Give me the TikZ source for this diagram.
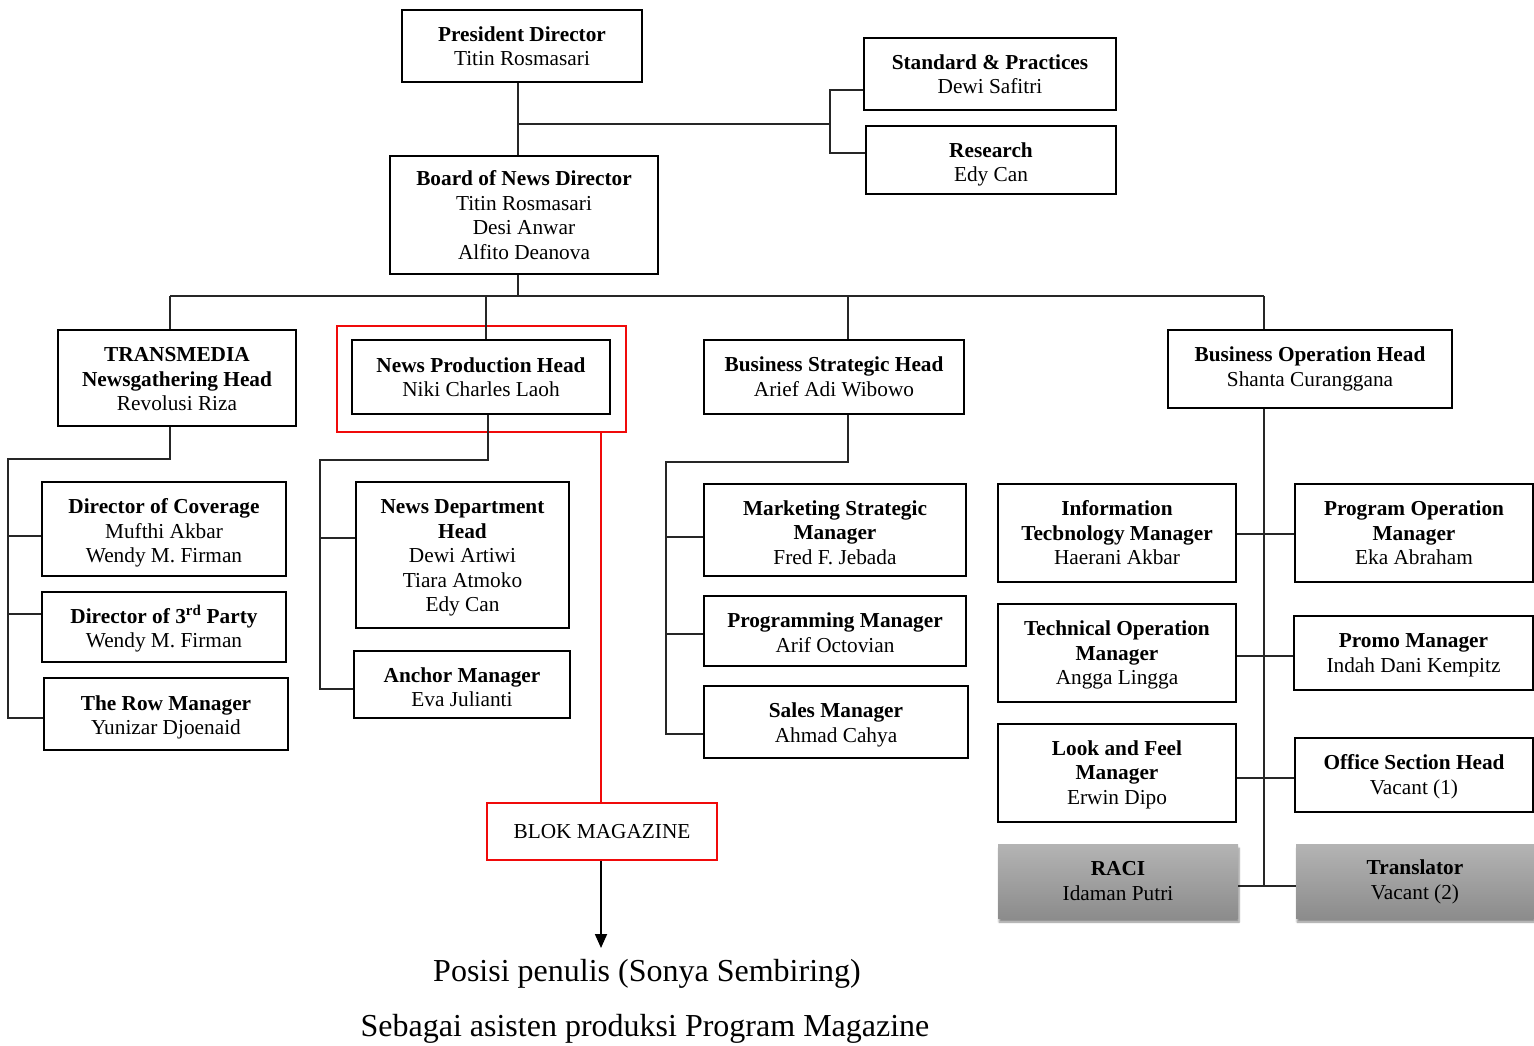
\documentclass[tikz,border=0pt]{standalone}
\usepackage{fontspec}
\setmainfont{Liberation Serif}
\usetikzlibrary{arrows.meta,shadows.blur}
\definecolor{gtop}{HTML}{B4B4B4}
\definecolor{gbot}{HTML}{8C8C8C}
\definecolor{redline}{HTML}{F00A0A}
\newlength\tdy
\setlength\tdy{0pt}
\newcommand\myline[1]{\raisebox{-\tdy}[\height][\depth]{#1}}
\tikzset{
  tshift/.code={\global\tdy=#1\relax},
  box/.style={draw=black, line width=1.8pt, align=center, inner sep=0pt,
    font=\fontsize{21.3}{24.5}\selectfont},
  graybox/.style={align=center, inner sep=0pt, top color=gtop, bottom color=gbot,
    blur shadow={shadow xshift=1pt, shadow yshift=-4pt, shadow blur steps=6, shadow opacity=45},
    font=\fontsize{21.3}{24.5}\selectfont},
  conn/.style={line width=1.4pt, draw=black!85},
  redconn/.style={line width=2.5pt, draw=redline},
}
\begin{document}
\begin{tikzpicture}[x=1pt,y=-1pt]
\useasboundingbox (0,0) rectangle (1534,1045);

% top
\node[box, tshift=0pt, minimum width=240, minimum height=72] (pres) at (522,46) {\textbf{President Director}\\Titin Rosmasari};
\node[box, tshift=0pt, minimum width=252, minimum height=72] (sp) at (990,74) {\textbf{Standard \& Practices}\\Dewi Safitri};
\node[box, tshift=4.5pt, minimum width=250, minimum height=68] (res) at (991,160) {\myline{\textbf{Research}}\\\myline{Edy Can}};
\node[box, tshift=0pt, minimum width=268, minimum height=118] (board) at (524,215) {\textbf{Board of News Director}\\Titin Rosmasari\\Desi Anwar\\Alfito Deanova};

% heads
\node[box, tshift=1.5pt, minimum width=238, minimum height=96] (trans) at (177,378) {\myline{\textbf{TRANSMEDIA}}\\\myline{\textbf{Newsgathering Head}}\\\myline{Revolusi Riza}};
\node[draw=redline, line width=2.5pt, minimum width=289, minimum height=106, inner sep=0pt] (redframe) at (481.5,379) {};
\node[box, tshift=0pt, minimum width=258, minimum height=74] (nph) at (481,377) {\textbf{News Production Head}\\Niki Charles Laoh};
\node[box, tshift=0pt, minimum width=260, minimum height=74] (bsh) at (834,377) {\textbf{Business Strategic Head}\\Arief Adi Wibowo};
\node[box, tshift=0pt, minimum width=284, minimum height=78] (boh) at (1310,369) {\textbf{Business Operation Head}\\Shanta Curanggana};

% transmedia children
\node[box, tshift=4pt, minimum width=244, minimum height=94] (doc) at (164,529) {\myline{\textbf{Director of Coverage}}\\\myline{Mufthi Akbar}\\\myline{Wendy M. Firman}};
\node[box, tshift=2pt, minimum width=244, minimum height=70] (d3p) at (164,627) {\myline{\textbf{Director of 3\textsuperscript{rd} Party}}\\\myline{Wendy M. Firman}};
\node[box, tshift=3.5pt, minimum width=244, minimum height=72] (row) at (166,714) {\myline{\textbf{The Row Manager}}\\\myline{Yunizar Djoenaid}};

% news production children
\node[box, tshift=3pt, minimum width=213, minimum height=146] (ndh) at (462.5,555) {\myline{\textbf{News Department}}\\\myline{\textbf{Head}}\\\myline{Dewi Artiwi}\\\myline{Tiara Atmoko}\\\myline{Edy Can}};
\node[box, tshift=2.5pt, minimum width=216, minimum height=67] (anc) at (462,684.5) {\myline{\textbf{Anchor Manager}}\\\myline{Eva Julianti}};

% business strategic children
\node[box, tshift=2.5pt, minimum width=262, minimum height=92] (msm) at (835,530) {\myline{\textbf{Marketing Strategic}}\\\myline{\textbf{Manager}}\\\myline{Fred F. Jebada}};
\node[box, tshift=1.5pt, minimum width=262, minimum height=70] (pm) at (835,631) {\myline{\textbf{Programming Manager}}\\\myline{Arif Octovian}};
\node[box, tshift=3pt, minimum width=264, minimum height=72] (sm) at (836,722) {\myline{\textbf{Sales Manager}}\\\myline{Ahmad Cahya}};

% business operation children
\node[box, tshift=0pt, minimum width=238, minimum height=98] (itm) at (1117,533) {\textbf{Information}\\\textbf{Tecbnology Manager}\\Haerani Akbar};
\node[box, tshift=2pt, minimum width=238, minimum height=98] (tom) at (1117,653) {\myline{\textbf{Technical Operation}}\\\myline{\textbf{Manager}}\\\myline{Angga Lingga}};
\node[box, tshift=1.5pt, minimum width=238, minimum height=98] (lfm) at (1117,773) {\myline{\textbf{Look and Feel}}\\\myline{\textbf{Manager}}\\\myline{Erwin Dipo}};
\node[graybox, tshift=0pt, minimum width=240, minimum height=74] (raci) at (1118,881) {\textbf{RACI}\\Idaman Putri};
\node[box, tshift=0pt, minimum width=238, minimum height=98] (pom) at (1414,533) {\textbf{Program Operation}\\\textbf{Manager}\\Eka Abraham};
\node[box, tshift=2.5pt, minimum width=239, minimum height=74] (promo) at (1413.5,653) {\myline{\textbf{Promo Manager}}\\\myline{Indah Dani Kempitz}};
\node[box, tshift=2pt, minimum width=238, minimum height=74] (osh) at (1414,775) {\myline{\textbf{Office Section Head}}\\\myline{Vacant (1)}};
\node[graybox, tshift=1pt, minimum width=238, minimum height=74] (tr) at (1415,881) {\myline{\textbf{Translator}}\\\myline{Vacant (2)}};

% blok magazine
\node[draw=redline, line width=2.2pt, minimum width=230, minimum height=57, inner sep=0pt,
  font=\fontsize{21.3}{24.5}\selectfont] (blok) at (602,831.5) {BLOK MAGAZINE};
\node[font=\fontsize{32}{36}\selectfont] (pos) at (647,974) {Posisi penulis (Sonya Sembiring)};
\node[font=\fontsize{32}{36}\selectfont] (seb) at (645,1029) {Sebagai asisten produksi Program Magazine};

% ---- connectors ----
\coordinate (c1) at (518,124);
\coordinate (c2) at (830,124);
\coordinate (spj) at (830,90);
\coordinate (resj) at (830,153);
\draw[conn] (pres.south -| c1) -- (board.north -| c1);
\draw[conn] (c1) -- (c2);
\draw[conn] (sp.west |- spj) -- (spj) -- (resj) -- (res.west |- resj);

\coordinate (bus) at (518,296);
\coordinate (busL) at (170,296);
\coordinate (busR) at (1264,296);
\coordinate (busN) at (486,296);
\coordinate (busS) at (848,296);
\draw[conn] (board.south -| bus) -- (bus);
\draw[conn] (busL) -- (busR);
\draw[conn] (busL) -- (trans.north -| busL);
\draw[conn] (busN) -- (nph.north -| busN);
\draw[conn] (busS) -- (bsh.north -| busS);
\draw[conn] (busR) -- (boh.north -| busR);

% transmedia tree
\coordinate (t1) at (170,459);
\coordinate (t2) at (8,459);
\coordinate (t3) at (8,718);
\coordinate (ta) at (8,536);
\coordinate (tb) at (8,614);
\draw[conn] (trans.south -| t1) -- (t1) -- (t2) -- (t3) -- (row.west |- t3);
\draw[conn] (ta) -- (doc.west |- ta);
\draw[conn] (tb) -- (d3p.west |- tb);

% news production tree
\coordinate (n1) at (488,460);
\coordinate (n2) at (320,460);
\coordinate (n3) at (320,689);
\coordinate (na) at (320,538);
\draw[conn] (nph.south -| n1) -- (n1) -- (n2) -- (n3) -- (anc.west |- n3);
\draw[conn] (na) -- (ndh.west |- na);

% business strategic tree
\coordinate (s1) at (848,462);
\coordinate (s2) at (666,462);
\coordinate (s3) at (666,734);
\coordinate (sa) at (666,537);
\coordinate (sb) at (666,634);
\draw[conn] (bsh.south -| s1) -- (s1) -- (s2) -- (s3) -- (sm.west |- s3);
\draw[conn] (sa) -- (msm.west |- sa);
\draw[conn] (sb) -- (pm.west |- sb);

% business operation tree
\coordinate (o1) at (1264,886);
\coordinate (oa) at (1264,534);
\coordinate (ob) at (1264,656);
\coordinate (oc) at (1264,778);
\draw[conn] (boh.south -| o1) -- (o1);
\draw[conn] (itm.east |- oa) -- (pom.west |- oa);
\draw[conn] (tom.east |- ob) -- (promo.west |- ob);
\draw[conn] (lfm.east |- oc) -- (osh.west |- oc);
\draw[conn] (raci.east |- o1) -- (tr.west |- o1);

% red line and arrow
\coordinate (r1) at (601,0);
\coordinate (aend) at (601,948);
\draw[redconn] (redframe.south -| r1) -- (blok.north -| r1);
\draw[line width=1.8pt, -{Triangle[length=14pt,width=12pt]}] (blok.south -| r1) -- (aend);
\end{tikzpicture}
\end{document}
